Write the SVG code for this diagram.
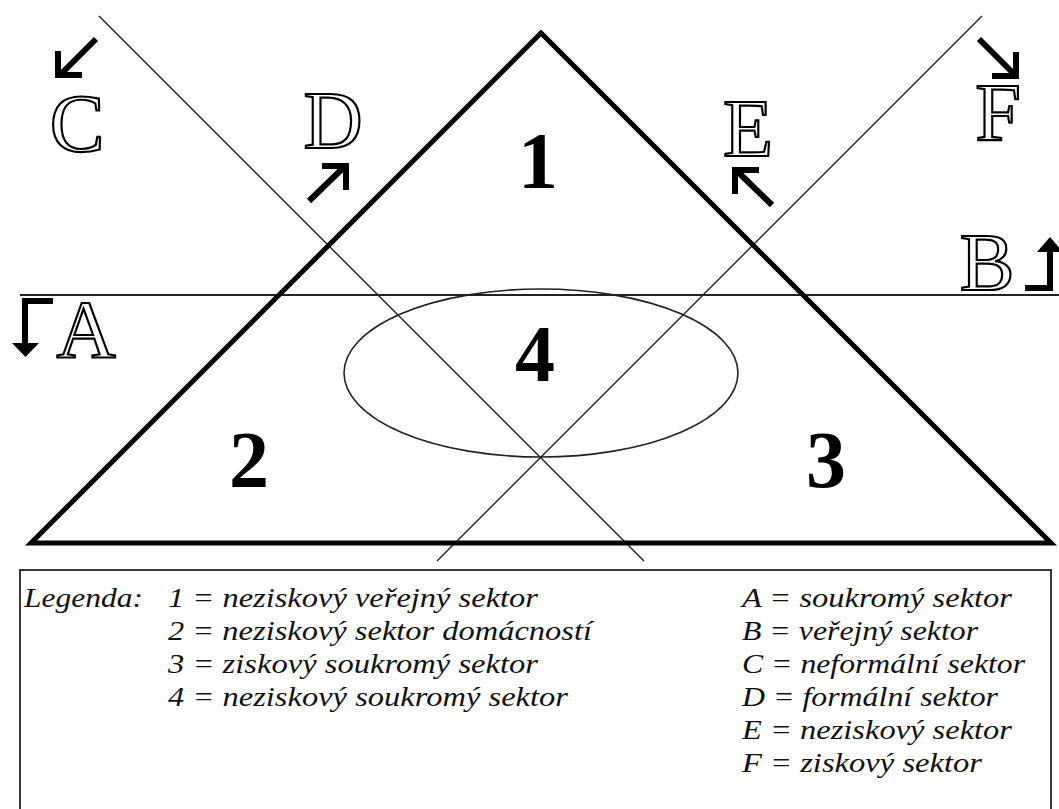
<svg xmlns="http://www.w3.org/2000/svg" width="1059" height="809" viewBox="0 0 1059 809">
<style>
.thin{fill:none;stroke:#222;stroke-width:1.4}
.tri{fill:none;stroke:#000;stroke-width:5;stroke-linejoin:miter}
.arr{fill:none;stroke:#000;stroke-width:6;stroke-linejoin:miter;stroke-linecap:butt}
.big{font-family:"Liberation Serif",serif;font-size:82px;fill:#fff;stroke:#000;stroke-width:2.2;text-anchor:middle}
.num{font-family:"Liberation Serif",serif;font-size:80px;font-weight:bold;fill:#000;text-anchor:middle}
.leg{font-family:"Liberation Serif",serif;font-style:italic;font-size:28px;fill:#111}
</style>
<rect width="1059" height="809" fill="#fff"/>
<g id="connectors">
<line class="thin" x1="20" y1="295" x2="1059" y2="295" style="stroke-width:2"/>
<line class="thin" x1="99" y1="16" x2="644" y2="561"/>
<line class="thin" x1="982" y1="16" x2="437" y2="561"/>
</g>
<g id="triangle"><polygon class="tri" points="541,33 1051,543 31,543"/></g>
<g id="ellipse"><ellipse class="thin" cx="541" cy="373" rx="197" ry="84" style="stroke-width:1.6"/></g>
<g id="region1"><text class="num" x="538" y="188">1</text></g>
<g id="region2"><text class="num" x="249" y="487">2</text></g>
<g id="region3"><text class="num" x="826" y="487">3</text></g>
<g id="region4"><text class="num" x="535" y="381">4</text></g>
<g id="labelA">
<path class="arr" d="M53,301 L25,301 L25,345"/>
<polygon points="12,343 39,343 25.5,357" fill="#000"/>
<text class="big" x="86" y="357">A</text>
</g>
<g id="labelB">
<path class="arr" d="M1025,288 L1050,288 L1050,250"/>
<polygon points="1037,252 1063,252 1050,237" fill="#000"/>
<text class="big" x="987" y="290">B</text>
</g>
<g id="labelC">
<path class="arr" d="M96,39 L61,74"/>
<path class="arr" d="M58,51 L58,75 L82,75"/>
<text class="big" x="77" y="151">C</text>
</g>
<g id="labelD">
<path class="arr" d="M309,201 L343,168"/>
<path class="arr" d="M322,166 L346,166 L346,190"/>
<text class="big" x="333" y="148">D</text>
</g>
<g id="labelE">
<path class="arr" d="M772,205 L738,172"/>
<path class="arr" d="M759,170 L735,170 L735,194"/>
<text class="big" x="748" y="156">E</text>
</g>
<g id="labelF">
<path class="arr" d="M979,39 L1013,73"/>
<path class="arr" d="M1016,52 L1016,76 L992,76"/>
<text class="big" x="998" y="140">F</text>
</g>
<g id="legend">
<rect x="20" y="570" width="1031" height="260" fill="none" stroke="#222" stroke-width="1.8"/>
<text class="leg" x="24" y="607" textLength="119" lengthAdjust="spacingAndGlyphs">Legenda:</text>
<text class="leg" x="168" y="607" textLength="370" lengthAdjust="spacingAndGlyphs">1 = neziskový veřejný sektor</text>
<text class="leg" x="168" y="640" textLength="424" lengthAdjust="spacingAndGlyphs">2 = neziskový sektor domácností</text>
<text class="leg" x="168" y="673" textLength="370" lengthAdjust="spacingAndGlyphs">3 = ziskový soukromý sektor</text>
<text class="leg" x="168" y="706" textLength="400" lengthAdjust="spacingAndGlyphs">4 = neziskový soukromý sektor</text>
<text class="leg" x="742" y="607" textLength="270" lengthAdjust="spacingAndGlyphs">A = soukromý sektor</text>
<text class="leg" x="742" y="640" textLength="236" lengthAdjust="spacingAndGlyphs">B = veřejný sektor</text>
<text class="leg" x="742" y="673" textLength="283" lengthAdjust="spacingAndGlyphs">C = neformální sektor</text>
<text class="leg" x="742" y="706" textLength="256" lengthAdjust="spacingAndGlyphs">D = formální sektor</text>
<text class="leg" x="742" y="739" textLength="270" lengthAdjust="spacingAndGlyphs">E = neziskový sektor</text>
<text class="leg" x="742" y="772" textLength="240" lengthAdjust="spacingAndGlyphs">F = ziskový sektor</text>
</g>
</svg>
